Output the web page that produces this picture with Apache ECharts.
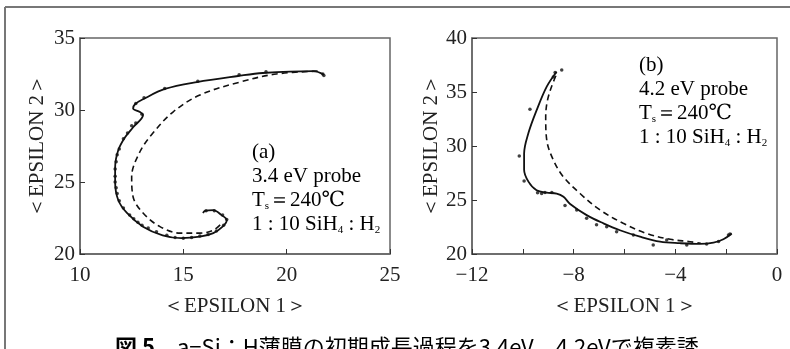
<!DOCTYPE html>
<html>
<head>
<meta charset="utf-8">
<script src="https://cdn.jsdelivr.net/npm/echarts@6/dist/echarts.min.js"></script>
<style>
  html, body { margin: 0; padding: 0; background: #fff; }
  #chart { width: 790px; height: 349px; }
</style>
</head>
<body>
<div id="chart"></div>
<script>
// panel (a): 3.4 eV probe
const aSolid = [
  [21.8, 32.45], [21.3, 32.7], [18.85, 32.57], [17.65, 32.36], [15.66, 31.94], [14.11, 31.46],
  [13.07, 30.76], [12.66, 30.4], [12.57, 30.1], [12.9, 29.86], [13.05, 29.65], [12.57, 28.8],
  [12.18, 28.1], [11.85, 27.2], [11.7, 26.0], [11.7, 25.0], [11.85, 23.75], [12.27, 22.85],
  [13.05, 21.9], [14.0, 21.3], [14.9, 21.1], [15.8, 21.2], [16.45, 21.45], [16.9, 21.9],
  [17.1, 22.35], [16.85, 22.7], [16.45, 23.05], [16.05, 23.0], [15.95, 22.85]
];
const aDashed = [
  [21.5, 32.7], [19.5, 32.5], [17.74, 31.94], [15.8, 31.04], [14.5, 29.86], [13.53, 28.4],
  [12.9, 27.1], [12.5, 25.35], [12.57, 23.96], [13.05, 22.85], [13.87, 21.9], [14.84, 21.45],
  [15.8, 21.45], [16.45, 21.65], [16.9, 22.2]
];
const aDots = [
  [21.75, 32.5], [21.8, 32.4], [19.0, 32.65], [17.7, 32.45], [15.7, 32.0], [14.1, 31.5],
  [13.1, 30.85], [12.7, 30.45], [13.0, 29.7], [12.7, 29.1], [12.5, 28.9], [12.3, 28.4],
  [12.1, 28.0], [11.9, 27.3], [11.8, 26.9], [11.75, 26.4], [11.7, 25.9], [11.7, 25.4],
  [11.7, 25.0], [11.75, 24.6], [11.8, 24.2], [11.9, 23.7], [12.1, 23.2], [12.4, 22.7],
  [12.6, 22.45], [12.8, 22.2], [13.0, 22.0], [13.3, 21.8], [13.7, 21.55], [14.2, 21.3],
  [14.6, 21.15], [15.0, 21.1], [15.4, 21.15], [15.8, 21.25], [16.2, 21.35], [16.6, 21.6],
  [16.95, 22.0], [17.1, 22.4], [16.9, 22.7], [16.5, 23.0], [16.1, 23.0]
];

// panel (b): 4.2 eV probe
const bSolid = [
  [-8.67, 36.88], [-9.06, 35.5], [-9.46, 33.3], [-9.78, 31.2], [-9.95, 29.3], [-9.95, 27.8],
  [-9.78, 26.7], [-9.46, 25.9], [-9.06, 25.68], [-8.67, 25.6], [-8.4, 25.3], [-8.14, 24.63],
  [-7.49, 23.6], [-6.83, 22.84], [-6.18, 22.2], [-5.39, 21.6], [-4.6, 21.14], [-3.82, 21.0],
  [-3.03, 20.93], [-2.5, 21.05], [-2.11, 21.36], [-1.78, 21.9]
];
const bDashed = [
  [-8.7, 36.5], [-8.9, 35.3], [-9.05, 34.0], [-9.1, 32.7], [-9.06, 30.56], [-8.8, 28.7],
  [-8.41, 27.16], [-7.75, 25.6], [-6.96, 24.07], [-6.05, 22.84], [-5.13, 21.9], [-4.2, 21.36],
  [-3.42, 21.14], [-3.0, 21.0]
];
const bDots = [
  [-8.47, 37.04], [-8.73, 36.8], [-8.8, 36.4], [-9.72, 33.4], [-10.14, 29.07], [-9.95, 26.76],
  [-9.42, 25.68], [-9.26, 25.6], [-9.13, 25.7], [-8.86, 25.7], [-8.34, 24.5], [-7.88, 24.07],
  [-7.49, 23.3], [-7.1, 22.7], [-6.7, 22.53], [-6.31, 22.06], [-5.65, 21.76], [-4.87, 20.83],
  [-4.34, 21.3], [-3.55, 20.83], [-2.77, 20.93], [-2.3, 21.15], [-1.91, 21.76], [-1.85, 21.85]
];

const aXTicks = [10, 25, 5];
const aYTicks = [20, 35, 5];
const bXTicks = [-12, 0, 2];
const bYTicks = [20, 40, 5];

const serif = '"Liberation Serif", "DejaVu Serif", serif';
const axisGray = '#666';

function xAxis(idx, ticks, formatter) {
  return {
    type: 'value', gridIndex: idx, min: ticks[0], max: ticks[1], interval: ticks[2],
    name: '＜EPSILON 1＞', nameLocation: 'middle', nameGap: 42,
    nameTextStyle: { fontFamily: serif, fontSize: 21, color: '#222' },
    axisLine: { show: true, onZero: false, lineStyle: { color: axisGray, width: 1.5 } },
    axisTick: { show: true, inside: true, length: 5, lineStyle: { color: '#333' } },
    axisLabel: { fontFamily: serif, fontSize: 21, color: '#222', margin: 11, formatter: formatter },
    splitLine: { show: false }
  };
}

function yAxis(idx, ticks, gap) {
  return {
    type: 'value', gridIndex: idx, min: ticks[0], max: ticks[1], interval: ticks[2],
    name: '＜EPSILON 2＞', nameLocation: 'middle', nameGap: gap, nameRotate: 90,
    nameTextStyle: { fontFamily: serif, fontSize: 21, color: '#222' },
    axisLine: { show: true, onZero: false, lineStyle: { color: axisGray, width: 1.5 } },
    axisTick: { show: true, inside: true, length: 5, lineStyle: { color: '#333' } },
    axisLabel: { fontFamily: serif, fontSize: 21, color: '#222', margin: 5 },
    splitLine: { show: false }
  };
}

function curve(idx, data, dashed) {
  return {
    type: 'line', xAxisIndex: idx, yAxisIndex: idx, data: data, smooth: 0.35,
    showSymbol: false, silent: true,
    lineStyle: { color: '#111', width: dashed ? 1.6 : 1.8, type: dashed ? [6, 4] : 'solid' }
  };
}

function dots(idx, data, size) {
  return {
    type: 'scatter', xAxisIndex: idx, yAxisIndex: idx, data: data, symbolSize: size,
    itemStyle: { color: '#111' }, silent: true
  };
}

const rich = {
  n: { fontFamily: serif, fontSize: 21, color: '#222' },
  s: { fontFamily: serif, fontSize: 11, color: '#222', verticalAlign: 'bottom', padding: [10, 0, 0, 0] }
};

function note(left, top, tag, probe) {
  return {
    type: 'text', left: left, top: top,
    style: {
      text: [
        '{n|' + tag + '}',
        '{n|' + probe + '}',
        '{n|T}{s|s}{n|＝240℃}',
        '{n|1 : 10 SiH}{s|4}{n| : H}{s|2}'
      ].join('\n'),
      rich: rich, lineHeight: 24
    }
  };
}

const chart = echarts.init(document.getElementById('chart'));

const option = {
  animation: false,
  grid: [
    { left: 80, top: 38, width: 310, height: 216, show: true, borderColor: axisGray, borderWidth: 1.5 },
    { left: 472, top: 38, width: 305, height: 216, show: true, borderColor: axisGray, borderWidth: 1.5 }
  ],
  xAxis: [
    xAxis(0, aXTicks),
    xAxis(1, bXTicks, function (v) {
      if (v % 4 !== 0) return '';
      return v < 0 ? '−' + Math.abs(v) : String(v);
    })
  ],
  yAxis: [yAxis(0, aYTicks, 32), yAxis(1, bYTicks, 30)],
  series: [
    curve(0, aSolid, false), curve(0, aDashed, true), dots(0, aDots, 3.5),
    curve(1, bSolid, false), curve(1, bDashed, true), dots(1, bDots, 3.5)
  ],
  graphic: [
    // outer frame (top and left edges only)
    { type: 'line', shape: { x1: 5, y1: 7, x2: 790, y2: 7 }, style: { stroke: '#777', lineWidth: 2 } },
    { type: 'line', shape: { x1: 5, y1: 7, x2: 5, y2: 349 }, style: { stroke: '#777', lineWidth: 2 } },
    note(252, 140, '(a)', '3.4 eV probe'),
    note(639, 53, '(b)', '4.2 eV probe'),
    {
      type: 'text', left: 115, top: 336,
      style: {
        text: '{b|図 5}{c|　a−Si：H薄膜の初期成長過程を3.4eV，4.2eVで複素誘}',
        rich: {
          b: { fontFamily: '"Noto Sans CJK JP"', fontSize: 22, fontWeight: 'bold', color: '#222' },
          c: { fontFamily: '"Noto Sans CJK JP"', fontSize: 22, color: '#222' }
        }
      }
    }
  ]
};

chart.setOption(option);
</script>
</body>
</html>
